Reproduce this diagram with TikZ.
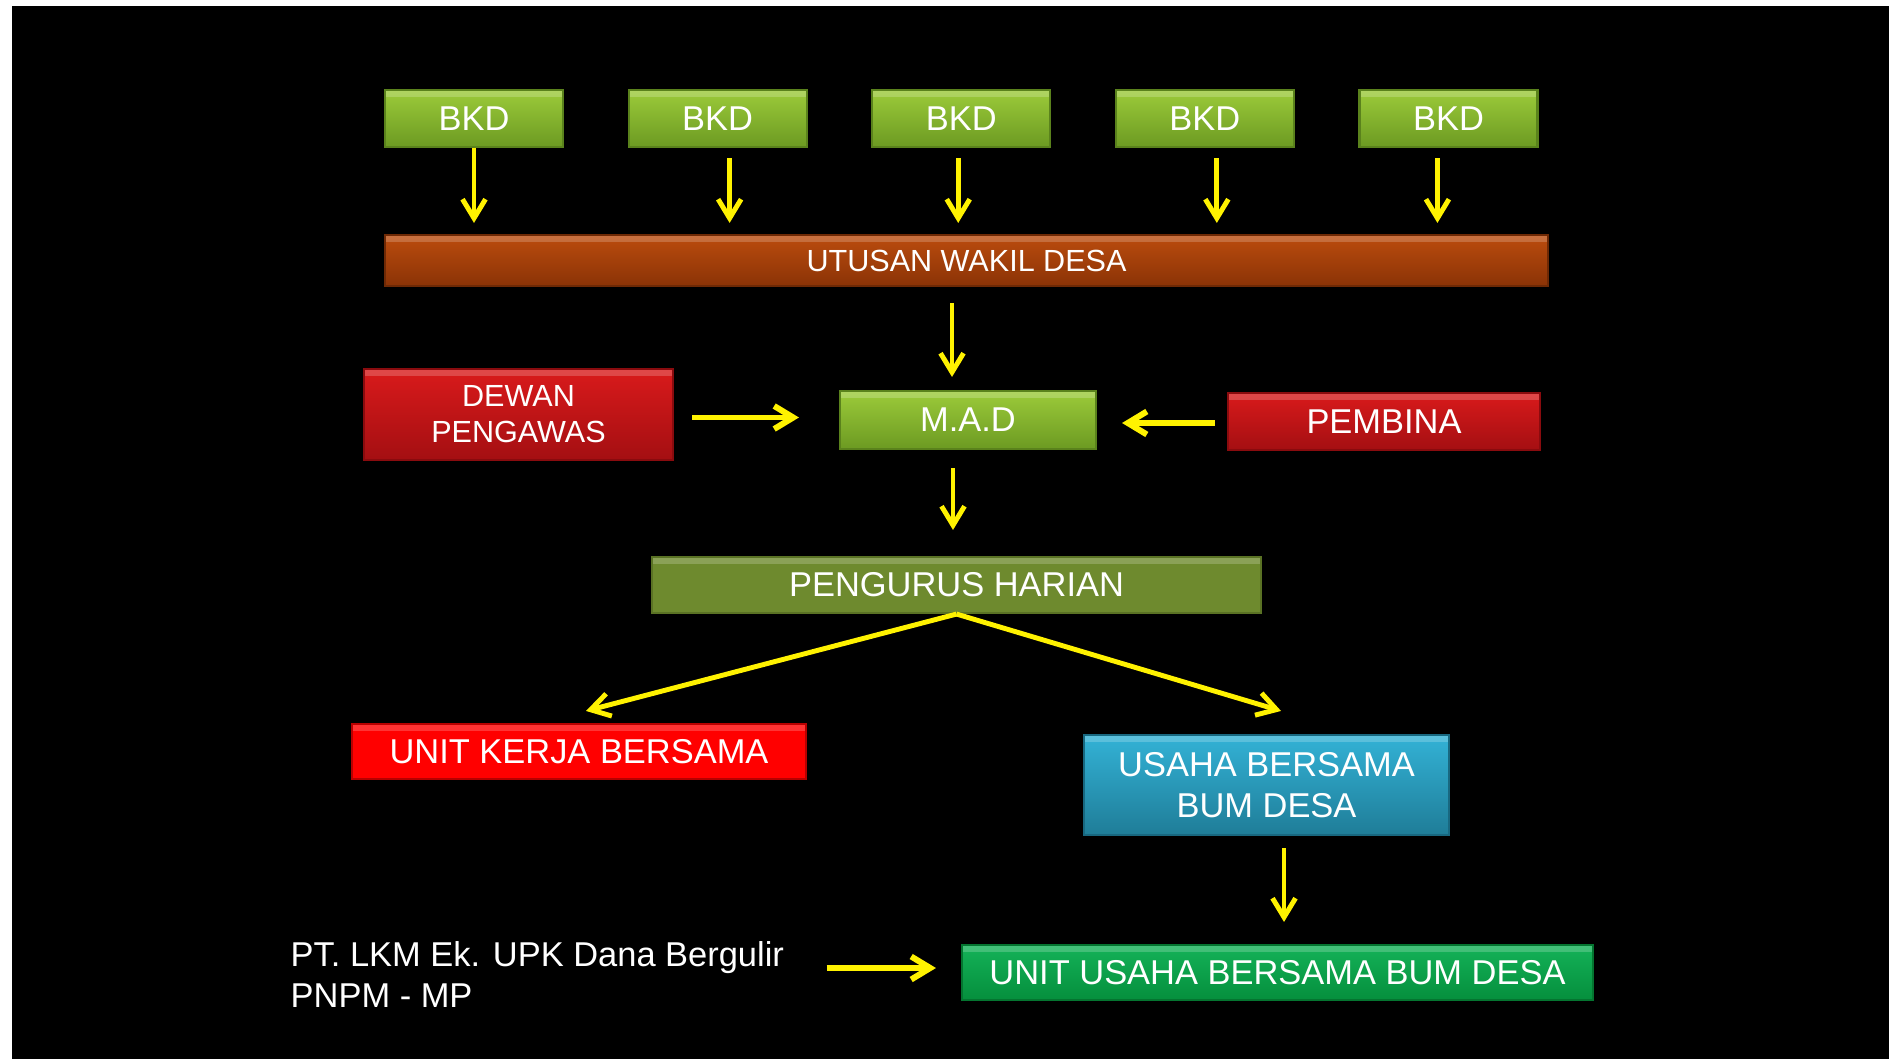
\documentclass[tikz,border=0pt]{standalone}
\usepackage{fontspec}
\setmainfont{Liberation Sans}
\usetikzlibrary{arrows.meta,positioning,calc}

\definecolor{bkdTop}{HTML}{9CCB3A}
\definecolor{bkdBot}{HTML}{6C9A22}
\definecolor{bkdLine}{HTML}{5A821C}
\definecolor{uwdTop}{HTML}{BC4C0E}
\definecolor{uwdBot}{HTML}{8A3306}
\definecolor{uwdLine}{HTML}{6E2905}
\definecolor{redTop}{HTML}{D91A1B}
\definecolor{redBot}{HTML}{A40F12}
\definecolor{redLine}{HTML}{8A0B0E}
\definecolor{phFill}{HTML}{6E8A2E}
\definecolor{phLine}{HTML}{5A7224}
\definecolor{ukbFill}{HTML}{FF0000}
\definecolor{ukbLine}{HTML}{B80000}
\definecolor{usbTop}{HTML}{33B2D6}
\definecolor{usbBot}{HTML}{1F7D98}
\definecolor{usbLine}{HTML}{186880}
\definecolor{uubTop}{HTML}{14B258}
\definecolor{uubBot}{HTML}{058F3D}
\definecolor{uubLine}{HTML}{047530}

\begin{document}
\begin{tikzpicture}[>={Straight Barb[length=1.9mm,width=2.3mm]}]

  \tikzstyle{box}=[rectangle, draw, line width=0.6pt, inner sep=0pt,
    text=white, align=center, font=\fontsize{9.8}{11.6}\selectfont,
    path picture={\fill[white,opacity=0.2] (path picture bounding box.north west)
      rectangle ([yshift=-0.7mm]path picture bounding box.north east);}];
  \tikzstyle{BKD}=[box, minimum width=1.78cm, minimum height=0.57cm,
    top color=bkdTop, bottom color=bkdBot, draw=bkdLine];
  \tikzstyle{UWD}=[box, minimum width=11.63cm, minimum height=0.51cm,
    top color=uwdTop, bottom color=uwdBot, draw=uwdLine,
    font=\fontsize{8.7}{10.2}\selectfont];
  \tikzstyle{MAD}=[BKD, minimum width=2.56cm, minimum height=0.58cm];
  \tikzstyle{RED}=[box, top color=redTop, bottom color=redBot, draw=redLine];
  \tikzstyle{PH}=[box, minimum width=6.09cm, minimum height=0.56cm,
    fill=phFill, draw=phLine];
  \tikzstyle{UKB}=[box, minimum width=4.54cm, minimum height=0.55cm,
    fill=ukbFill, draw=ukbLine];
  \tikzstyle{USB}=[box, minimum width=3.65cm, minimum height=1.0cm,
    top color=usbTop, bottom color=usbBot, draw=usbLine];
  \tikzstyle{UUB}=[box, minimum width=6.31cm, minimum height=0.55cm,
    top color=uubTop, bottom color=uubBot, draw=uubLine];
  \tikzstyle{arr}=[->, draw=yellow, line width=1.4pt];

  \useasboundingbox (0,0) rectangle (18.92,10.59);
  \fill[white] (0,0) rectangle (18.92,10.59);
  \fill[black] (0.12,0) rectangle (18.89,10.53);

  \node [BKD] (bkd1) at (4.74,9.405) {BKD};
  \node [BKD,right=0.635cm of bkd1] (bkd2) {BKD};
  \node [BKD,right=0.635cm of bkd2] (bkd3) {BKD};
  \node [BKD,right=0.635cm of bkd3] (bkd4) {BKD};
  \node [BKD,right=0.635cm of bkd4] (bkd5) {BKD};

  \node [UWD] (uwd) at (9.665,7.985) {UTUSAN WAKIL DESA};

  \node [MAD] (mad) at (9.68,6.39) {M.A.D};
  \node [RED,minimum width=3.09cm,minimum height=0.91cm,
    font=\fontsize{8.7}{10.2}\selectfont] (dewan) at (5.185,6.445) {DEWAN\\PENGAWAS};
  \node [RED,minimum width=3.12cm,minimum height=0.57cm] (pembina) at (13.84,6.375) {PEMBINA};

  \node [PH] (ph) at (9.565,4.74) {PENGURUS HARIAN};

  \node [UKB] (ukb) at (5.79,3.075) {UNIT KERJA BERSAMA};
  \node [USB] (usb) at (12.665,2.74) {USAHA BERSAMA\\BUM DESA};

  \node [UUB] (uub) at (12.775,0.865) {UNIT USAHA BERSAMA BUM DESA};
  \node [anchor=west,align=left,inner sep=0pt,text=white,
    font=\fontsize{9.8}{11.6}\selectfont] (pt) at (2.90,0.845) {PT. LKM Ek. UPK Dana Bergulir\\PNPM - MP};

  %% arrows
  \foreach \i/\dx/\gap in {1/0/0,2/1.2/1,3/-0.3/1,4/1.2/1,5/-1.1/1}
    \draw[arr,shorten <=\gap mm,shorten >=1.1mm] ([xshift=\dx mm]bkd\i.south)
      -- ([xshift=\dx mm]bkd\i.south |- uwd.north);

  \draw[arr,shorten <=1.6mm,shorten >=1.3mm] ([xshift=-1.6mm]mad.north |- uwd.south)
    -- ([xshift=-1.6mm]mad.north);
  \draw[arr,line width=1.7pt,shorten <=1.8mm,shorten >=4mm] ([yshift=-0.3mm]dewan.east)
    -- ([yshift=-0.3mm]dewan.east -| mad.west);
  \draw[arr,line width=1.7pt,shorten <=1.2mm,shorten >=2.5mm] ([yshift=-0.15mm]pembina.west)
    -- ([yshift=-0.15mm]pembina.west -| mad.east);
  \draw[arr,shorten <=1.8mm,shorten >=2.6mm] ([xshift=-1.5mm]mad.south)
    -- ([xshift=-1.5mm]mad.south |- ph.north);

  \draw[arr] (ph.south) -- ([xshift=0.7mm,yshift=1.2mm]ukb.north);
  \draw[arr] (ph.south) -- ([xshift=1.45mm,yshift=2.3mm]usb.north);

  \draw[arr,shorten <=1.2mm,shorten >=2.2mm] ([xshift=1.75mm]usb.south)
    -- ([xshift=1.75mm]usb.south |- uub.north);
  \draw[arr,line width=1.7pt,shorten <=4.2mm,shorten >=2.5mm] ([yshift=0.45mm]uub.west -| pt.east)
    -- ([yshift=0.45mm]uub.west);

\end{tikzpicture}
\end{document}
